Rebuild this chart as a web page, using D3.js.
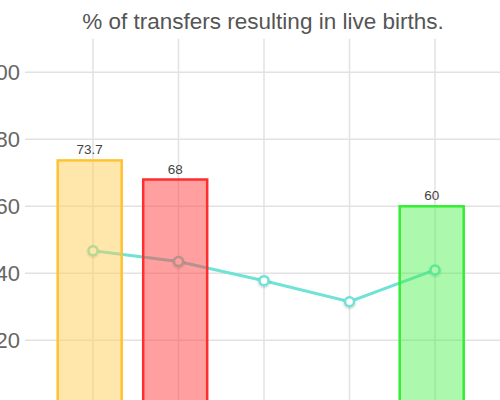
<!DOCTYPE html>
<html><head><meta charset="utf-8">
<script src="https://cdn.jsdelivr.net/npm/d3@7"></script>
<style>html,body{margin:0;padding:0;background:#fff;overflow:hidden}</style>
</head><body>
<svg id="c" width="500" height="400"></svg>
<script>
const categories = ["A", "B", "C", "D", "E"];
const barValues = [73.7, 68, null, null, 60];
const lineValues = [46.7, 43.5, 37.8, 31.5, 41.0];
const yTicks = [20, 40, 60, 80, 100];
const barFills = ["rgba(255,205,86,0.5)", "rgba(255,64,64,0.5)", "rgba(90,200,255,0.5)", "rgba(160,100,255,0.5)", "rgba(70,240,70,0.45)"];
const barStrokes = ["#ffc233", "#ff2e2e", "#36a2eb", "#9966ff", "#33ee33"];
const titleText = "% of transfers resulting in live births.";

const svg = d3.select("#c");
const font = "'Liberation Sans', Arial, Helvetica, sans-serif";

const y = d3.scaleLinear().domain([0, 110]).range([407.3, 38.8]);
const x = d3.scalePoint().domain(categories).range([93, 435]);
const barW = 66, barShift = -3.3;

// title
svg.append("text").attr("x", 263).attr("y", 29).attr("text-anchor", "middle")
  .attr("font-family", font).attr("font-size", 22.5).attr("fill", "#555").text(titleText);

// grid
const g = svg.append("g");
g.selectAll("line.h").data(yTicks).join("line")
  .attr("x1", 25).attr("x2", 500).attr("y1", d => y(d)).attr("y2", d => y(d))
  .attr("stroke", "#e2e2e2").attr("stroke-width", 1.5);
g.selectAll("line.v").data(categories).join("line")
  .attr("x1", d => x(d)).attr("x2", d => x(d)).attr("y1", y(110)).attr("y2", 400)
  .attr("stroke", "#e2e2e2").attr("stroke-width", 1.5);

// y labels
svg.append("g").selectAll("text").data(yTicks).join("text")
  .attr("x", 20).attr("y", d => y(d)).attr("dy", "0.36em").attr("text-anchor", "end")
  .attr("font-family", font).attr("font-size", 22).attr("fill", "#666").text(d => d);

// line
const defs = svg.append("defs");
const f = defs.append("filter").attr("id", "sh").attr("x", "-50%").attr("y", "-50%").attr("width", "200%").attr("height", "200%");
f.append("feDropShadow").attr("dx", 0).attr("dy", 1).attr("stdDeviation", 1).attr("flood-color", "#000").attr("flood-opacity", 0.25);

const lineColor = "#6ee3d6";
svg.append("path").datum(lineValues)
  .attr("d", d3.line().x((d, i) => x(categories[i])).y(d => y(d)))
  .attr("fill", "none").attr("stroke", lineColor).attr("stroke-width", 3);
svg.append("g").selectAll("circle").data(lineValues).join("circle")
  .attr("cx", (d, i) => x(categories[i])).attr("cy", d => y(d)).attr("r", 4.5)
  .attr("fill", "#fff").attr("stroke", lineColor).attr("stroke-width", 2.5)
  .attr("filter", "url(#sh)");

// bars
const bars = categories.map((c, i) => ({c, v: barValues[i], i})).filter(d => d.v != null);
svg.append("g").selectAll("rect").data(bars).join("rect")
  .attr("x", d => x(d.c) + barShift - barW / 2 + 1).attr("width", barW - 2)
  .attr("y", d => y(d.v)).attr("height", d => y(0) - y(d.v) + 10)
  .attr("fill", d => barFills[d.i]).attr("stroke", d => barStrokes[d.i]).attr("stroke-width", 2.5);

// data labels
svg.append("g").selectAll("text").data(bars).join("text")
  .attr("x", d => x(d.c) + barShift).attr("y", d => y(d.v) - 6).attr("text-anchor", "middle")
  .attr("font-family", font).attr("font-size", 13.5).attr("fill", "#444").text(d => d.v);
</script>
</body></html>
